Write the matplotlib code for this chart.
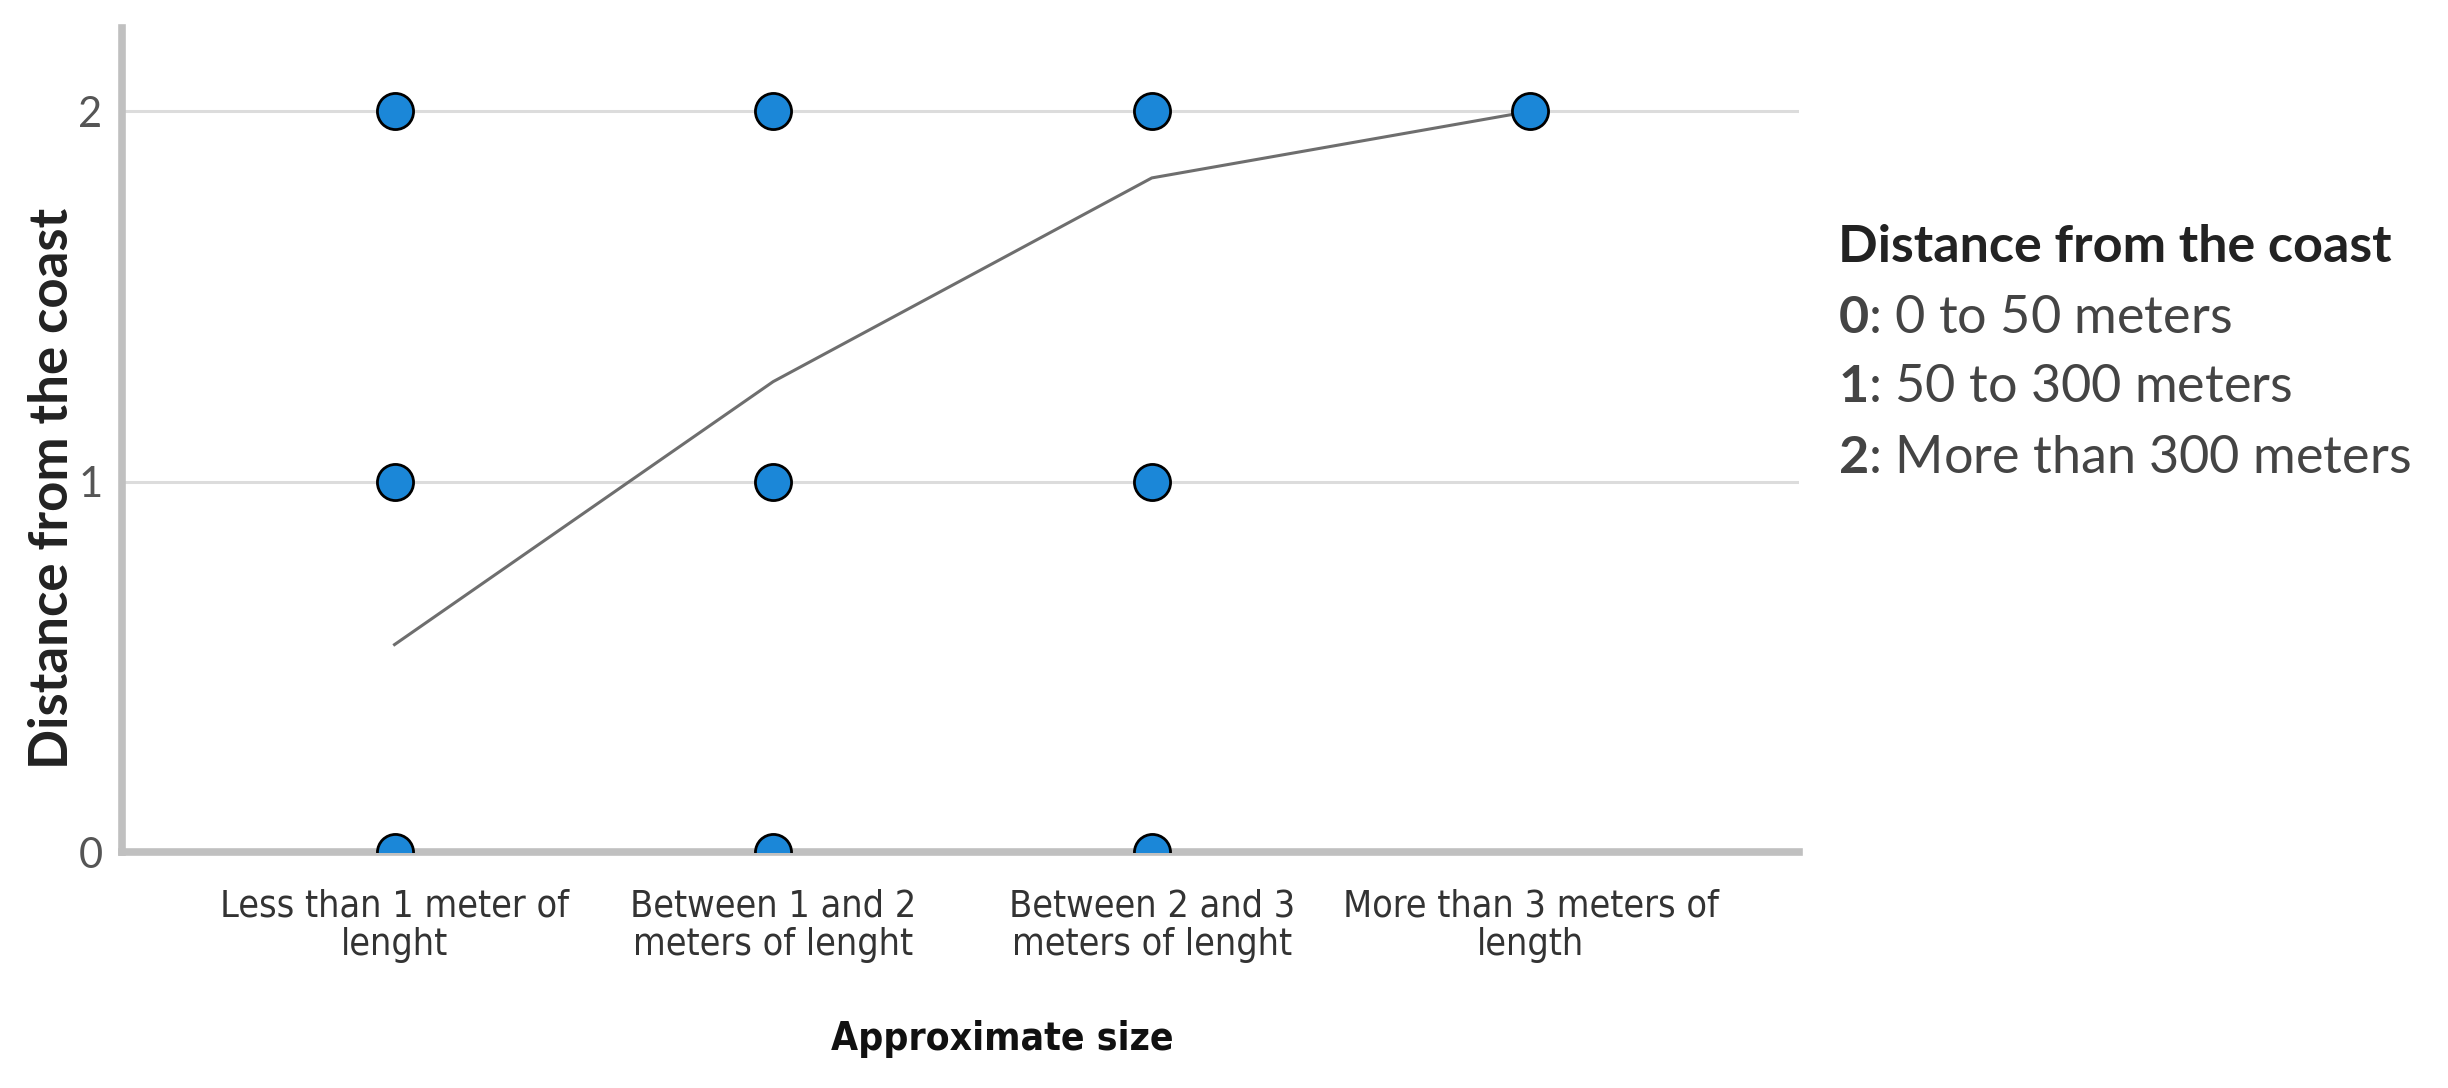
import matplotlib.pyplot as plt
from matplotlib import font_manager

# categories on the x axis
sizes = ['Less than 1 meter of\nlenght', 'Between 1 and 2\nmeters of lenght',
         'Between 2 and 3\nmeters of lenght', 'More than 3 meters of\nlength']

# observed combinations (size index, distance code)
pt_size = [0, 0, 0, 1, 1, 1, 2, 2, 2, 3]
pt_dist = [0, 1, 2, 0, 1, 2, 0, 1, 2, 2]

# mean distance per size class
mean_dist = [0.56, 1.27, 1.82, 2.0]

legend_title = 'Distance from the coast'
legend_codes = ['0', '1', '2']
legend_texts = ['0 to 50 meters', '50 to 300 meters', 'More than 300 meters']

plt.rcParams['mathtext.fontset'] = 'custom'
plt.rcParams['mathtext.bf'] = 'Lato:bold'
plt.rcParams['mathtext.rm'] = 'Lato'

cond = font_manager.FontProperties(family='DejaVu Sans', stretch='condensed', size=27)
cond_b = font_manager.FontProperties(family='DejaVu Sans', stretch='condensed', weight='bold', size=28)

fig = plt.figure(figsize=(24.48, 10.88), dpi=100)
ax = fig.add_axes([0.0498, 0.2169, 0.6852, 0.7571])

x = list(range(len(sizes)))
ax.plot(x, mean_dist, color='#6e6e6e', lw=2.2, zorder=3)
ax.plot([x[i] for i in pt_size], pt_dist, ls='none', marker='o', ms=26,
        mfc='#1b87d8', mec='black', mew=2, zorder=4)

ax.set_xlim(-0.72, 3.71)
ax.set_ylim(0, 2.224)
ax.set_yticks([0, 1, 2])
ax.set_xticks(x)
ax.set_xticklabels(sizes, fontproperties=cond, color='#333333', linespacing=1.1)
for lab in ax.get_yticklabels():
    lab.set_family('Lato')
    lab.set_fontsize(30)
    lab.set_color('#555555')
ax.tick_params(axis='both', length=0)
ax.tick_params(axis='y', pad=14)
ax.tick_params(axis='x', pad=26)

ax.grid(axis='y', color='#dcdcdc', lw=2.2, zorder=0)
ax.set_axisbelow(True)
for s in ['top', 'right']:
    ax.spines[s].set_visible(False)
for s in ['left', 'bottom']:
    ax.spines[s].set_color('#c0c0c0')
    ax.spines[s].set_linewidth(5.5)

ax.set_ylabel('Distance from the coast', family='Lato', fontweight='bold', fontsize=38,
              color='#222222')
ax.yaxis.set_label_coords(-0.0268, 0.4417)
ax.set_xlabel('Approximate size', fontproperties=cond_b, color='#111111')
ax.xaxis.set_label_coords(0.525, -0.204)

# legend-like text block on the right
fig.text(0.7508, 0.7592, legend_title, family='Lato', fontweight='bold', fontsize=37.5,
         color='#222222', va='baseline')
rows_y = [0.6939, 0.6305, 0.5653]
for code, txt, yy in zip(legend_codes, legend_texts, rows_y):
    fig.text(0.7508, yy, r'$\mathbf{' + code + '}$: ' + txt, family='Lato', fontsize=37.5,
             color='#444444', va='baseline')

fig.savefig('out.png', dpi=100)
